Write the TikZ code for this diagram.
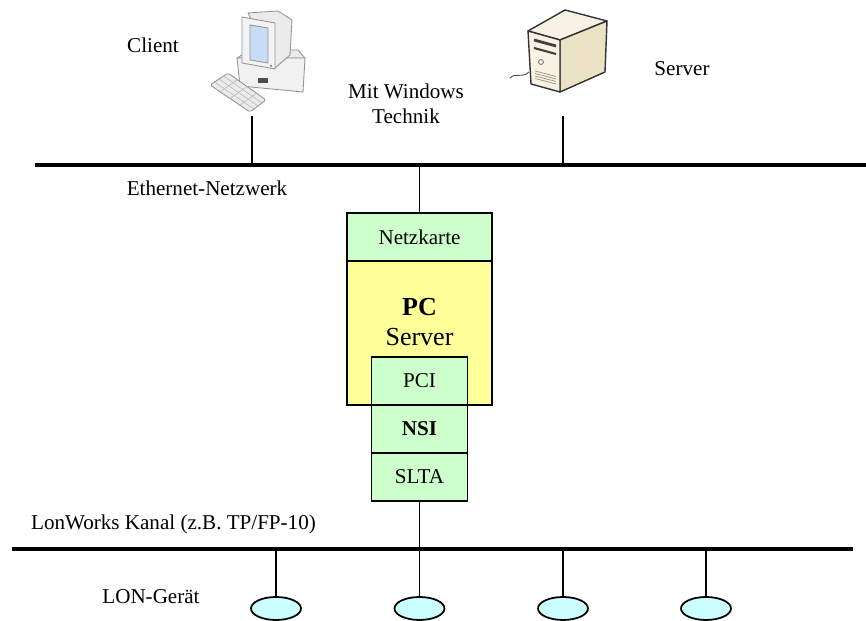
\documentclass[tikz,border=0pt]{standalone}
\usepackage{fontspec}
\setmainfont{Liberation Serif}
\usetikzlibrary{positioning, shapes.geometric, calc}
\definecolor{KarteGruen}{RGB}{204,255,204}
\definecolor{PCGelb}{RGB}{255,255,153}
\definecolor{GeraetCyan}{RGB}{204,255,255}
\definecolor{IconGrau}{RGB}{150,150,150}
\definecolor{IconHell}{RGB}{235,235,235}
\definecolor{SchirmBlau}{RGB}{200,220,246}
\definecolor{Beige}{RGB}{236,226,198}
\definecolor{BeigeHell}{RGB}{247,242,228}
\definecolor{BeigeDunkel}{RGB}{224,211,176}

\begin{document}
\begin{tikzpicture}[font=\fontsize{12}{14.4}\selectfont,
	bus/.style={line width=2.8pt},
	stich/.style={line width=0.9pt},
	karte/.style={rectangle, draw, line width=1pt, fill=KarteGruen, minimum width=1.92cm, minimum height=0.96cm, inner sep=0pt, outer sep=0pt},
	geraet/.style={ellipse, draw, line width=1pt, fill=GeraetCyan, minimum width=1cm, minimum height=0.46cm, inner sep=0pt},
	icon/.style={draw=IconGrau, line width=0.5pt, line join=round},
	turm/.style={draw=black!80, line width=0.8pt, line join=round}]
	\useasboundingbox (0,0) rectangle (17.32,12.42);

	% Busleitungen
	\coordinate (ethL) at (0.70, 9.12);
	\coordinate (ethR) at (17.40, 9.12);
	\coordinate (lonL) at (0.24, 1.44);
	\coordinate (lonR) at (17.06, 1.44);
	\draw[bus] (ethL) -- (ethR);
	\draw[bus] (lonL) -- (lonR);

	% Client: Gehaeuse, Monitor, Tastatur
	\coordinate (clientPort) at (5.04,10.10);
	\filldraw[icon, fill=IconHell] (4.74,11.26) -- (5.00,11.42) -- (5.96,11.42) -- (6.10,11.26) -- cycle;
	\filldraw[icon, fill=IconHell!70!white] (4.74,11.26) -- (6.10,11.26) -- (6.06,10.58) -- (4.80,10.70) -- cycle;
	\fill[black!70] (5.16,10.86) rectangle (5.36,10.76);
	\filldraw[icon, fill=IconHell] (4.96,12.16) -- (5.56,12.20) -- (5.84,12.02) -- (5.80,11.32) -- (5.50,11.06) -- cycle;
	\filldraw[icon, fill=IconHell!60!white] (4.84,12.08) -- (5.50,11.96) -- (5.50,11.04) -- (4.84,11.16) -- cycle;
	\filldraw[icon, fill=SchirmBlau] (5.00,11.92) -- (5.36,11.86) -- (5.36,11.16) -- (5.00,11.22) -- cycle;
	\fill[green!60!black] (5.42,11.10) circle (0.02);
	\coordinate (kA) at (4.20,10.72);
	\coordinate (kB) at (4.56,10.96);
	\coordinate (kC) at (5.32,10.42);
	\coordinate (kD) at (5.00,10.18);
	\filldraw[icon, fill=IconHell, rounded corners=1pt] (kA) -- (kB) -- (kC) -- (kD) -- cycle;
	\foreach \t in {0.25,0.5,0.75}{
		\draw[IconGrau!70, line width=0.3pt] ($(kA)!\t!(kB)$) -- ($(kD)!\t!(kC)$);
		\draw[IconGrau!70, line width=0.3pt] ($(kA)!\t!(kD)$) -- ($(kB)!\t!(kC)$);
	}

	% Server-Turm
	\coordinate (serverPort) at (11.26,10.10);
	\draw[black!70, line width=0.5pt] (10.20,10.86) .. controls (10.32,10.98) and (10.42,10.84) .. (10.58,10.98);
	\filldraw[turm, fill=BeigeHell] (10.56,11.80) -- (11.30,12.22) -- (12.14,12.00) -- (11.20,11.62) -- cycle;
	\filldraw[turm, fill=Beige] (11.20,11.62) -- (12.14,12.00) -- (12.10,10.98) -- (11.20,10.58) -- cycle;
	\filldraw[turm, fill=BeigeHell] (10.56,11.80) -- (11.20,11.62) -- (11.20,10.58) -- (10.62,10.74) -- cycle;
	\draw[black!75, line width=1.6pt] (10.68,11.62) -- (11.12,11.50);
	\draw[black!75, line width=1.2pt] (10.68,11.46) -- (11.12,11.34);
	\draw[BeigeDunkel!60!black, line width=0.5pt] (10.82,11.18) circle (0.05);
	\foreach \v in {0,1,2,3}
		\draw[BeigeDunkel!70!black, line width=0.4pt] (10.70,11.00-\v*0.05) -- (11.12,10.89-\v*0.05);

	\draw[stich] (clientPort) -- (clientPort |- ethL);
	\draw[stich] (serverPort) -- (serverPort |- ethL);

	% PC mit Karten
	\node[karte, minimum width=2.9cm] (nk) at (8.39,7.68) {Netzkarte};
	\node[rectangle, draw, line width=1pt, fill=PCGelb, minimum width=2.9cm, minimum height=2.88cm, outer sep=0pt, below=0pt of nk] (pc) {};
	\node[align=center, font=\fontsize{14.8}{17}\selectfont] (pctxt) at (8.39,5.98) {\textbf{PC}\\Server};
	\node[karte] (pci) at (8.39,4.80) {PCI};
	\node[karte, below=0pt of pci] (nsi) {\textbf{NSI}};
	\node[karte, below=0pt of nsi] (slta) {SLTA};

	\draw[stich] (nk.north) -- (nk.north |- ethL);
	\draw[stich] (slta.south) -- (slta.south |- lonL);

	% LON-Geraete am Kanal
	\foreach \x [count=\i] in {5.52, 8.39, 11.26, 14.12}{
		\node[geraet] (lon\i) at (\x, 0.25) {};
		\draw[stich] (lon\i.north) -- (lon\i.north |- lonL);
	}

	\node (client) at (3.06,11.52) {Client};
	\node[align=center] (mitwin) at (8.12,10.34) {Mit Windows\\Technik};
	\node (server) at (13.64,11.04) {Server};
	\node (ethtxt) at (4.14,8.66) {Ethernet-Netzwerk};
	\node (lontxt) at (3.47,1.94) {LonWorks Kanal (z.B. TP/FP-10)};
	\node (gertxt) at (3.02,0.48) {LON-Gerät};
\end{tikzpicture}
\end{document}
